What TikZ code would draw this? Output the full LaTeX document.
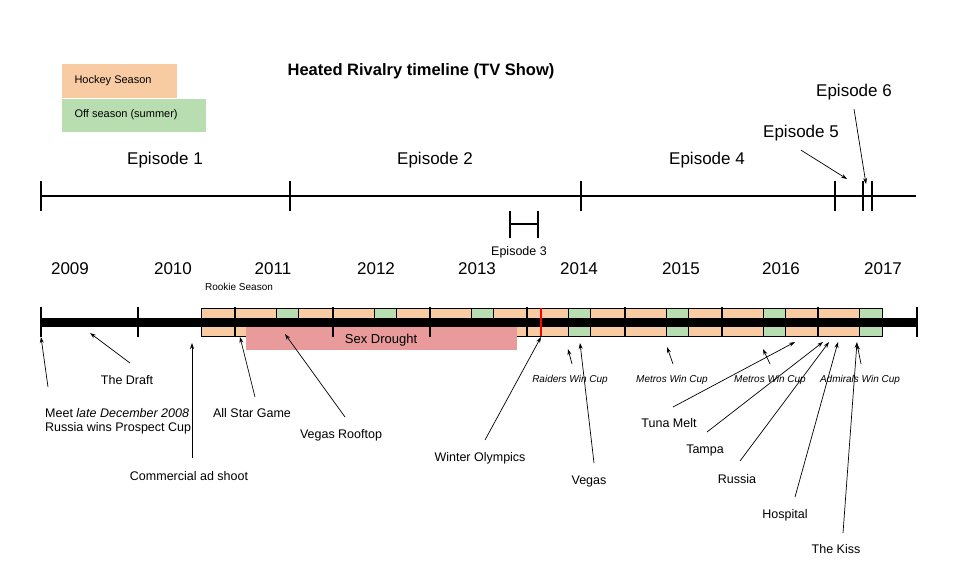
\documentclass[tikz,border=0pt]{standalone}
\usepackage{fontspec}
\setmainfont{Liberation Sans}
\usepackage{xcolor}
\usepackage{tikz}
\usetikzlibrary{arrows.meta, positioning, calc}
\definecolor{hockey}{HTML}{F8CBA3}
\definecolor{summer}{HTML}{B8DDB0}
\definecolor{drought}{HTML}{E99B9B}
\tikzset{
	lbl/.style={font=\fontsize{12.5}{14}\selectfont, inner sep=1pt},
	cup/.style={font=\fontsize{10}{12}\selectfont\itshape, inner sep=1pt},
	big/.style={font=\fontsize{17}{20}\selectfont, inner sep=1pt},
	ptr/.style={-{Stealth[length=6pt,width=4pt]}, line width=0.7pt},
	tick/.style={line width=2.4pt},
}
\begin{document}
\begin{tikzpicture}[x=1pt, y=-1pt]
	\useasboundingbox (0,0) rectangle (960,573);

	% title and legend
	\node[font=\fontsize{16.5}{19}\selectfont\bfseries] (title) at (421,71) {Heated Rivalry timeline (TV Show)};
	\fill[hockey] (62,64) rectangle (177,98);
	\node[font=\fontsize{11}{13}\selectfont, anchor=west] (keyhockey) at (71,81) {Hockey Season};
	\fill[summer] (62,99) rectangle (206,132);
	\node[font=\fontsize{11}{13}\selectfont, anchor=west] (keysummer) at (71,115) {Off season (summer)};

	% episode timeline
	\draw[line width=2pt] (41,196) -- (916,196);
	\foreach \x in {41,290,581,835,863,872} {
		\draw[tick] (\x,181) -- (\x,211);
	}
	\draw[line width=2pt] (510,224) -- (538,224);
	\draw[tick] (510,211) -- (510,238);
	\draw[tick] (538,211) -- (538,238);
	\node[big] (ep1) at (165,160) {Episode 1};
	\node[big] (ep2) at (435,160) {Episode 2};
	\node[font=\fontsize{12.5}{14}\selectfont] (ep3) at (519,252) {Episode 3};
	\node[big] (ep4) at (707,160) {Episode 4};
	\node[big] (ep5) at (801,133) {Episode 5};
	\node[big] (ep6) at (854,92) {Episode 6};
	\coordinate (ep5tip) at (847,179);
	\coordinate (ep6tip) at (866,184);
	\draw[ptr] (ep5.south) ++(0,8) -- (ep5tip);
	\draw[ptr] (ep6.south) ++(0,8) -- (ep6tip);

	% seasons
	\draw[fill=hockey] (201,308) rectangle (235,336);
	\foreach \t in {235,333,430,527,625,722} {
		\draw[fill=hockey] (\t,308) rectangle (\t+41,336);
		\draw[fill=summer] (\t+41,308) rectangle (\t+63,336);
		\draw[fill=hockey] (\t+63,308) rectangle (\t+97,336);
	}
	\draw[fill=hockey] (818,308) rectangle (859,336);
	\draw[fill=summer] (859,308) rectangle (882,336);
	\fill[drought] (246,326) rectangle (517,350);
	\node[font=\fontsize{13}{15}\selectfont] (drought) at (381,340) {Sex Drought};

	% year axis
	\draw[line width=9pt] (41,322) -- (917,322);
	\foreach \x in {41,138,235,333,430,527,625,722,818,917} {
		\draw[tick] (\x,307) -- (\x,337);
	}
	\draw[red, line width=2.4pt] (541,308) -- (541,336);
	\foreach \y/\x in {2009/70,2010/173,2011/273,2012/376,2013/477,2014/579,2015/681,2016/781,2017/883} {
		\node[big] (y\y) at (\x,269) {\y};
	}
	\node[font=\fontsize{10}{12}\selectfont] (rookie) at (239,287) {Rookie Season};

	% events
	\node[lbl, align=left, anchor=north west] (meet) at (44,407) {Meet \textit{late December 2008}\\Russia wins Prospect Cup};
	\node[lbl] (draft) at (127,380) {The Draft};
	\node[lbl] (ad) at (189,476) {Commercial ad shoot};
	\node[lbl] (allstar) at (252,413) {All Star Game};
	\node[lbl] (rooftop) at (341,435) {Vegas Rooftop};
	\node[lbl] (olympics) at (480,458) {Winter Olympics};
	\node[lbl] (vegas) at (589,481) {Vegas};
	\node[lbl] (tuna) at (669,423) {Tuna Melt};
	\node[lbl] (tampa) at (705,450) {Tampa};
	\node[lbl] (russia) at (737,479) {Russia};
	\node[lbl] (hospital) at (785,515) {Hospital};
	\node[lbl] (kiss) at (836,549) {The Kiss};
	\node[cup] (raiders) at (570,380) {Raiders Win Cup};
	\node[cup] (metros1) at (672,380) {Metros Win Cup};
	\node[cup] (metros2) at (770,380) {Metros Win Cup};
	\node[cup] (admirals) at (860,380) {Admirals Win Cup};

	\draw[ptr] (48,387) -- (41,337);
	\draw[ptr] (130,363) -- (90,333);
	\draw[ptr] (192,458) -- (192,343);
	\draw[ptr] (255,397) -- (240,337);
	\draw[ptr] (345,417) -- (285,334);
	\draw[ptr] (485,440) -- (541,337);
	\draw[ptr] (572,364) -- (568,349);
	\draw[ptr] (594,463) -- (580,343);
	\draw[ptr] (673,364) -- (667,347);
	\draw[ptr] (770,364) -- (763,349);
	\draw[ptr] (861,364) -- (857,344);
	\draw[ptr] (673,407) -- (795,342);
	\draw[ptr] (707,432) -- (823,342);
	\draw[ptr] (740,461) -- (829,342);
	\draw[ptr] (795,497) -- (838,342);
	\draw[ptr] (843,533) -- (857,342);
\end{tikzpicture}
\end{document}
